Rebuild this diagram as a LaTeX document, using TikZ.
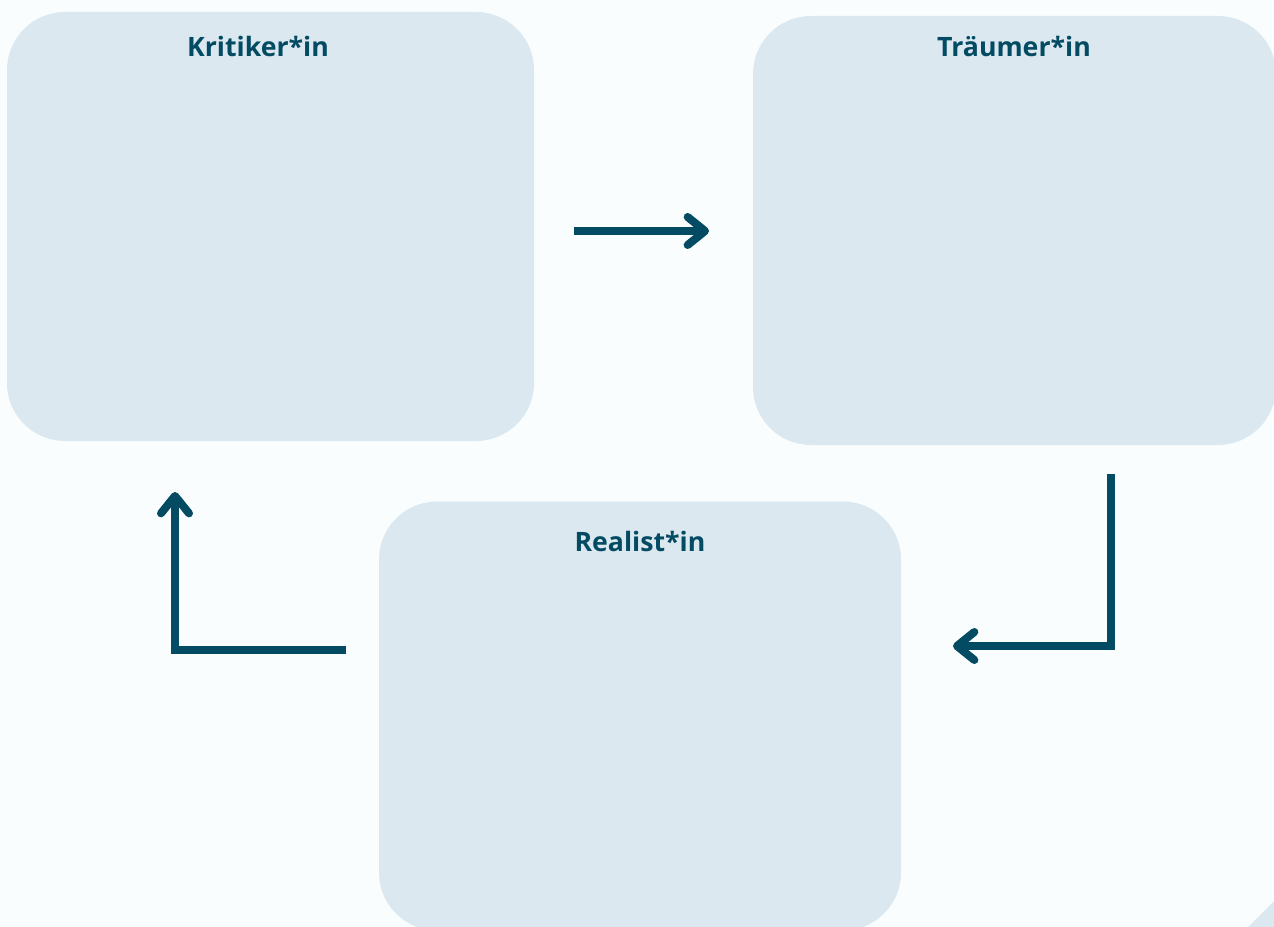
\documentclass[tikz,border=0pt]{standalone}
\usepackage{fontspec}
\setmainfont{Open Sans}
\usetikzlibrary{arrows.meta}
\definecolor{bgc}{HTML}{F9FDFD}
\definecolor{boxc}{HTML}{DBE8EF}
\definecolor{darkc}{HTML}{034A63}
\tikzset{
  panel/.style={fill=boxc, draw=none, rounded corners=43.5pt, inner sep=0pt},
  ttl/.style={font=\bfseries\fontsize{20}{23}\selectfont, text=darkc, inner sep=0pt},
  flow/.style={draw=darkc, line width=6pt, line cap=butt, line join=miter,
    -{Straight Barb[length=13pt,width=21pt,round,line width=6pt]}}
}
\begin{document}
\begin{tikzpicture}[x=0.75pt,y=-0.75pt]
\useasboundingbox[fill=bgc] (0,0) rectangle (1274,927);
\begin{scope}
\clip (0,0) rectangle (1274,927);
\node[panel, minimum width=395.25pt, minimum height=321.75pt] (krit) at (270.5,226.5) {};
\node[panel, minimum width=392.25pt, minimum height=321.75pt] (traum) at (1014.5,230.5) {};
\node[panel, minimum width=391.5pt, minimum height=321.75pt] (real) at (640,716) {};
\fill[boxc] (1248,927) -- (1274,901) -- (1274,927) -- cycle;
\end{scope}
\node[ttl] (tk) at (258,47) {Kritiker*in};
\node[ttl] (tt) at (1014,47) {Träumer*in};
\node[ttl] (tr) at (640,541) {Realist*in};
\coordinate (a1s) at (574,231);
\coordinate (a1e) at (709,231);
\coordinate (a2s) at (1111,474);
\coordinate (a2c) at (1111,646);
\coordinate (a2e) at (953,646);
\coordinate (a3s) at (346,650);
\coordinate (a3c) at (175,650);
\coordinate (a3e) at (175,492);
\draw[flow] (a1s) -- (a1e);
\draw[flow] (a2s) -- (a2c) -- (a2e);
\draw[flow] (a3s) -- (a3c) -- (a3e);
\end{tikzpicture}
\end{document}
